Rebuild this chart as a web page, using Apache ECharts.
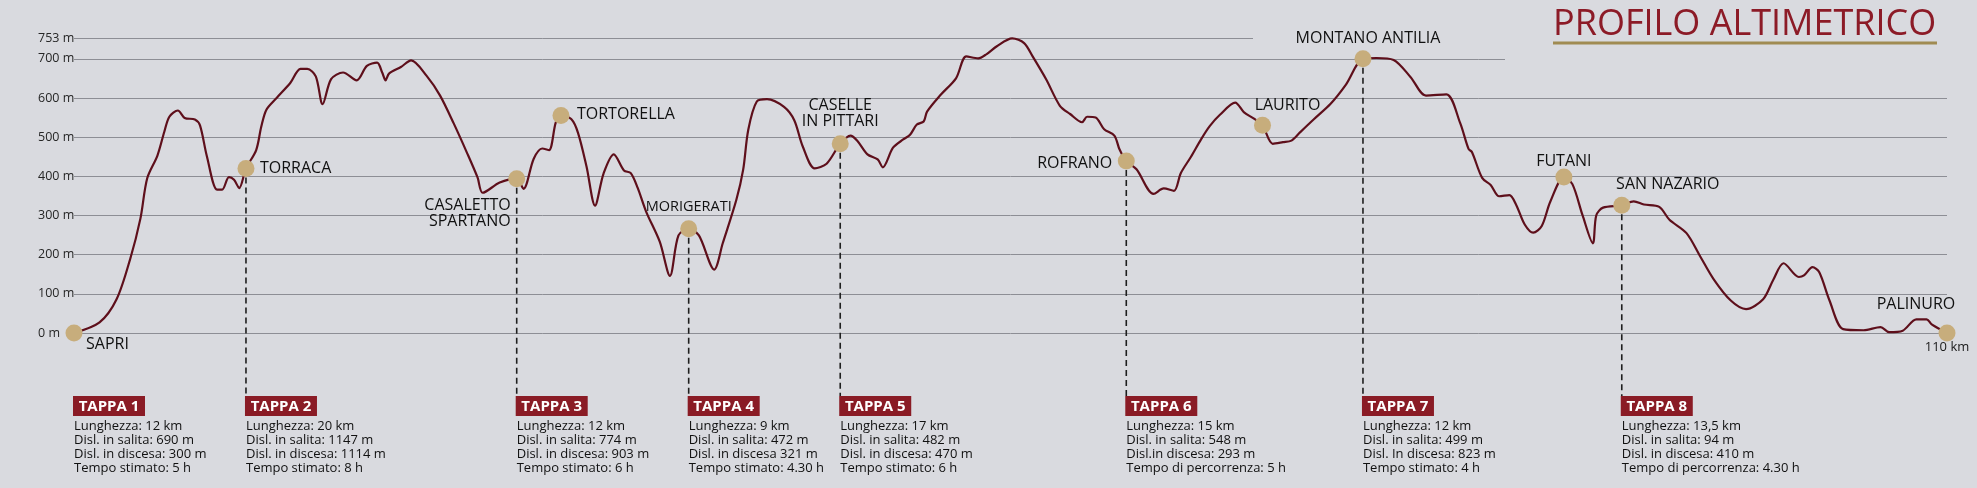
<!DOCTYPE html>
<html>
<head>
<meta charset="utf-8">
<script src="https://cdn.jsdelivr.net/npm/echarts@6/dist/echarts.min.js"></script>
<style>
html,body{margin:0;padding:0;background:#d9dadf;}
#c{width:1977px;height:488px;}
</style>
</head>
<body>
<div id="c"></div>
<script>
// ---- DATA ----
const distanceKm = [0,1.5,2.5,3.3,3.9,4.3,4.9,5.3,5.6,6.1,6.5,7.1,7.4,7.8,8.4,8.7,9.1,9.4,9.7,10.1,10.7,11.0,11.3,11.9,12.7,13.3,13.7,14.2,14.6,15.1,15.8,16.6,17.2,17.8,18.1,18.3,18.5,19.2,19.8,20.7,21.5,22.3,23.1,23.7,24.0,25.0,26.0,26.4,27.0,27.5,27.9,28.3,28.6,29.2,29.6,30.1,30.6,31.1,31.7,32.3,32.7,33.1,33.6,34.4,35.0,35.5,36.1,36.7,37.6,38.1,38.9,39.3,39.6,40.1,40.7,41.7,42.3,42.8,43.5,44.2,45.0,45.6,46.0,46.6,47.2,47.5,48.1,48.7,49.1,49.5,49.9,50.1,50.9,51.8,52.4,53.1,53.6,54.2,55.1,55.8,56.3,57.1,57.9,58.5,59.2,59.5,60.0,60.5,61.1,61.4,61.8,62.4,63.4,64.0,64.6,65.0,65.6,66.2,66.7,67.3,68.2,68.7,69.3,69.8,70.4,71.0,71.5,72.0,72.8,73.8,74.7,75.7,76.5,77.5,78.5,79.4,80.6,81.4,81.9,82.1,82.7,83.2,83.7,84.3,84.7,85.2,85.7,86.2,86.7,87.5,88.0,88.6,89.2,89.4,89.8,90.9,91.6,92.2,93.1,93.7,94.7,95.5,96.3,97.3,98.2,99.2,99.8,100.4,101.3,101.6,102.1,102.5,103.1,103.9,105.1,106.1,106.6,107.4,108.2,108.8,109.1,110];
const elevationM = [0,27,86,189,292,395,453,513,552,568,549,545,530,452,366,366,398,391,370,420,467,527,570,600,638,674,674,655,584,648,665,645,682,690,665,645,662,679,696,657,606,535,458,397,358,384,394,368,445,471,467,538,555,546,511,425,325,407,456,415,408,371,310,233,146,249,266,249,162,229,340,417,519,591,597,577,543,476,420,432,483,504,491,456,443,423,473,494,506,532,540,565,608,650,706,701,712,732,752,740,706,647,580,559,538,552,550,520,504,469,439,418,355,369,363,408,450,495,528,557,588,564,547,530,483,487,491,512,545,585,634,700,702,697,653,606,609,537,470,462,396,378,349,352,327,277,256,273,335,398,380,300,229,300,320,326,336,328,322,289,255,196,137,83,61,86,136,178,143,147,168,155,83,10,7,15,2,6,35,35,22,0];

const townNames = ['SAPRI','TORRACA','CASALETTO\nSPARTANO','TORTORELLA','MORIGERATI','CASELLE\nIN PITTARI','ROFRANO','LAURITO','MONTANO ANTILIA','FUTANI','SAN NAZARIO','PALINURO'];
const townKm    = [0,10.1,26.0,28.6,36.1,45.0,61.8,69.8,75.7,87.5,90.9,110];
const townElev  = [0,420,394,555,266,483,439,530,700,398,326,0];

const yTickValues = [0,100,200,300,400,500,600,700,753];
const totalKmLabel = '110 km';
const titleText = 'PROFILO ALTIMETRICO';

const stageTitles = ['TAPPA 1','TAPPA 2','TAPPA 3','TAPPA 4','TAPPA 5','TAPPA 6','TAPPA 7','TAPPA 8'];
const stageStartTown = [0,1,2,4,5,6,8,10];
const stageLines = [
  ['Lunghezza: 12 km','Disl. in salita: 690 m','Disl. in discesa: 300 m','Tempo stimato: 5 h'],
  ['Lunghezza: 20 km','Disl. in salita: 1147 m','Disl. in discesa: 1114 m','Tempo stimato: 8 h'],
  ['Lunghezza: 12 km','Disl. in salita: 774 m','Disl. in discesa: 903 m','Tempo stimato: 6 h'],
  ['Lunghezza: 9 km','Disl. in salita: 472 m','Disl. in discesa 321 m','Tempo stimato: 4.30 h'],
  ['Lunghezza: 17 km','Disl. in salita: 482 m','Disl. in discesa: 470 m','Tempo stimato: 6 h'],
  ['Lunghezza: 15 km','Disl. in salita: 548 m','Disl.in discesa: 293 m','Tempo di percorrenza: 5 h'],
  ['Lunghezza: 12 km','Disl. in salita: 499 m','Disl. In discesa: 823 m','Tempo stimato: 4 h'],
  ['Lunghezza: 13,5 km','Disl. in salita: 94 m','Disl. in discesa: 410 m','Tempo di percorrenza: 4.30 h']
];

// ---- STYLE / LAYOUT ----
const BG = '#d9dadf';
const FONT = '"Open Sans", "DejaVu Sans", sans-serif';
const DOT = 17;
// label offsets from dot centre: [dx, dy, align, fontSize]
const labelPlace = {
  'SAPRI': [12, 11, 'left'],
  'TORRACA': [14, 0, 'left'],
  'CASALETTO\nSPARTANO': [-6, 35, 'right'],
  'TORTORELLA': [16, -1, 'left'],
  'MORIGERATI': [0, -22, 'center', 14.5],
  'CASELLE\nIN PITTARI': [0, -30, 'center'],
  'ROFRANO': [-14, 2, 'right'],
  'LAURITO': [25, -20, 'center'],
  'MONTANO ANTILIA': [5, -20, 'center'],
  'FUTANI': [0, -16, 'center'],
  'SAN NAZARIO': [46, -21, 'center'],
  'PALINURO': [-31, -29, 'center']
};

const profile = distanceKm.map((d, i) => [d, elevationM[i]]);
const towns = townNames.map((n, i) => {
  const p = labelPlace[n];
  return {
    name: n,
    value: [townKm[i], townElev[i]],
    label: {
      position: [DOT / 2 + p[0], DOT / 2 + p[1]],
      align: p[2],
      verticalAlign: 'middle',
      fontSize: p[3] || 16
    }
  };
});
const stages = stageStartTown.map((t, i) => [townKm[t], townElev[t], i]);

const chart = echarts.init(document.getElementById('c'), null, {renderer: 'canvas'});
chart.setOption({
  backgroundColor: BG,
  animation: false,
  grid: {left: 74, right: 30, top: 38, bottom: 155, containLabel: false},
  xAxis: {
    type: 'value', min: 0, max: 110, interval: 110,
    axisLine: {show: false}, axisTick: {show: false}, splitLine: {show: false},
    axisLabel: {
      margin: 8, color: '#1a1a1a', fontSize: 13, fontFamily: FONT,
      formatter: v => (v === 110 ? totalKmLabel : '')
    }
  },
  yAxis: {
    type: 'value', min: 0, max: 753, interval: 100,
    axisLine: {show: false}, axisTick: {show: false},
    axisLabel: {
      align: 'left', margin: 36, color: '#262626', fontSize: 12.5, fontFamily: FONT,
      formatter: v => (yTickValues.indexOf(v) >= 0 ? v + ' m' : '')
    },
    splitLine: {lineStyle: {color: '#8d8e95', width: 1}}
  },
  graphic: [
    {type: 'rect', z: 1, silent: true, shape: {x: 1253, y: 33, width: 724, height: 10}, style: {fill: BG}},
    {type: 'rect', z: 1, silent: true, shape: {x: 1505, y: 53, width: 472, height: 11}, style: {fill: BG}},
    {type: 'text', z: 5, x: 1553, y: 25, style: {text: titleText, font: '36px ' + FONT, fill: '#8c1b27', verticalAlign: 'middle'}},
    {type: 'line', z: 5, shape: {x1: 1553, y1: 43, x2: 1937, y2: 43}, style: {stroke: '#a08b52', lineWidth: 3}}
  ],
  series: [
    {
      type: 'line', data: profile, showSymbol: false, smooth: 0.3, clip: false, z: 3,
      lineStyle: {color: '#5e0f1b', width: 2.2}
    },
    {
      type: 'custom', clip: false, z: 2, data: stages,
      renderItem: (params, api) => {
        const i = api.value(2);
        const p = api.coord([api.value(0), api.value(1)]);
        const base = api.coord([0, 0])[1];
        const boxTop = base + 63;
        const x = p[0] - 1;
        const children = [];
        if (i > 0) {
          children.push({type: 'line', shape: {x1: p[0], y1: p[1] + 9, x2: p[0], y2: boxTop},
            style: {stroke: '#1e1e1e', lineWidth: 1.6, lineDash: [6, 4]}});
        }
        children.push({type: 'rect', shape: {x: x, y: boxTop, width: 72, height: 20}, style: {fill: '#8a1b25'}});
        children.push({type: 'text', style: {text: stageTitles[i], x: x + 36, y: boxTop + 10.5, align: 'center',
          verticalAlign: 'middle', fill: '#ffffff', font: 'bold 15px ' + FONT}});
        children.push({type: 'text', style: {text: stageLines[i].join('\n'), x: x + 1, y: boxTop + 23, align: 'left',
          verticalAlign: 'top', fill: '#111111', font: '13px ' + FONT, lineHeight: 14}});
        return {type: 'group', children: children};
      }
    },
    {
      type: 'scatter', data: towns, symbolSize: DOT, z: 4,
      itemStyle: {color: '#c7ad7c', opacity: 1},
      label: {show: true, formatter: '{b}', color: '#111111', fontFamily: FONT, lineHeight: 16}
    }
  ]
});
</script>
</body>
</html>
